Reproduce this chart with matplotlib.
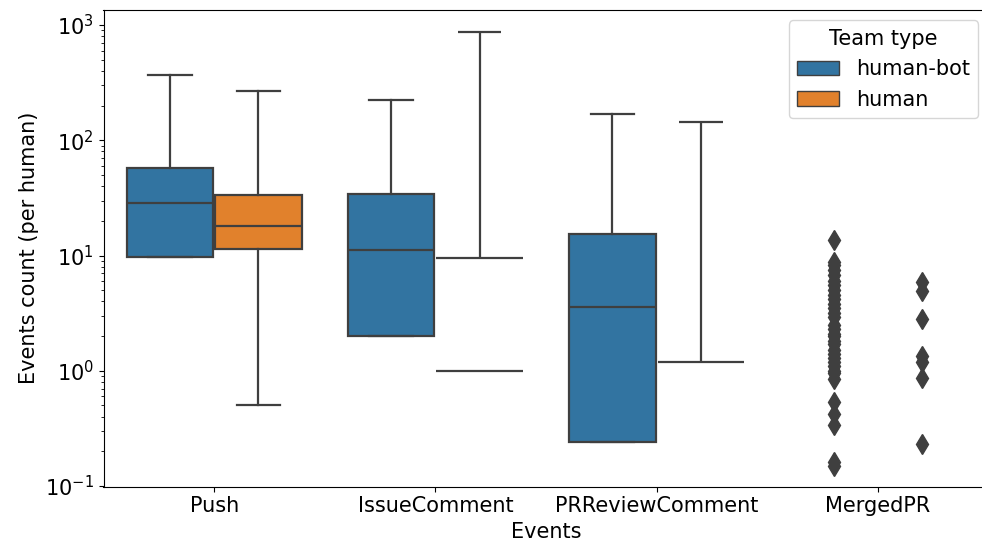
import numpy as np
import matplotlib
matplotlib.use("Agg")
import matplotlib.pyplot as plt
from matplotlib.patches import Patch

events = ["Push", "IssueComment", "PRReviewComment", "MergedPR"]
teams = ["human-bot", "human"]
colors = ["#3274a1", "#e1812c"]
gray = "#3f3f3f"

# box stats per event (whisker low, Q1, median, Q3, whisker high)
# 0 means the value is zero -> cannot be shown on the log axis
bot_whislo = [9.8, 2.02, 0.24, 0]
bot_q1 = [9.8, 2.02, 0.24, 0]
bot_med = [28.4, 11.2, 3.57, 0]
bot_q3 = [57.0, 34.0, 15.5, 0]
bot_whishi = [372, 225, 168, 0]

human_whislo = [0.50, 0, 0, 0]
human_q1 = [11.3, 0, 0, 0]
human_med = [17.9, 1.0, 0, 0]
human_q3 = [33.3, 9.5, 1.2, 0]
human_whishi = [265, 875, 144, 0]

# outliers (only MergedPR has them)
bot_fliers = [[], [], [],
              [13.5, 8.8, 8.2, 7.5, 6.8, 6.0, 5.5, 5.0, 4.5, 4.2, 3.8, 3.5,
               3.2, 2.9, 2.5, 2.3, 2.1, 2.0, 1.8, 1.7, 1.5, 1.4, 1.3, 1.2,
               1.1, 1.0, 0.95, 0.85, 0.54, 0.42, 0.335, 0.163, 0.148]]
human_fliers = [[], [], [], [5.9, 4.95, 2.8, 1.33, 1.2, 0.86, 0.23]]

stats = [
    (bot_whislo, bot_q1, bot_med, bot_q3, bot_whishi, bot_fliers),
    (human_whislo, human_q1, human_med, human_q3, human_whishi, human_fliers),
]

fig = plt.figure(figsize=(9.82, 5.5), dpi=100)
ax = fig.add_axes([103.5 / 982, 1 - 486.5 / 550, 885 / 982, 476.5 / 550])
ax.set_yscale("log")

w = 0.392
lw = 1.6
for j, (wlo, q1, med, q3, whi, fl) in enumerate(stats):
    off = -0.2 + 0.4 * j
    for i in range(len(events)):
        pos = i + off
        if q1[i] > 0:
            st = dict(whislo=wlo[i], q1=q1[i], med=med[i], q3=q3[i],
                      whishi=whi[i], fliers=[])
            ax.bxp([st], positions=[pos], widths=w, patch_artist=True,
                   showfliers=False, manage_ticks=False,
                   boxprops=dict(facecolor=colors[j], edgecolor=gray, linewidth=lw),
                   whiskerprops=dict(color=gray, linewidth=lw),
                   capprops=dict(color=gray, linewidth=lw),
                   medianprops=dict(color=gray, linewidth=lw))
        elif q3[i] > 0:
            # degenerate box (lower quartile at zero): only the visible parts
            vals = [v for v in (med[i], q3[i]) if v > 0]
            ax.hlines(vals, pos - w / 2, pos + w / 2, color=gray, linewidth=lw)
            ax.vlines(pos, q3[i], whi[i], color=gray, linewidth=lw)
            ax.hlines(whi[i], pos - w / 4, pos + w / 4, color=gray, linewidth=lw)
        if fl[i]:
            ax.plot(np.full(len(fl[i]), pos), fl[i], "d", ls="none",
                    color=gray, markersize=10)

ax.set_xlim(-0.5, len(events) - 0.5)
ax.set_ylim(0.099, 1350)
ax.set_xticks(range(len(events)))
ax.set_xticklabels(events)
ax.tick_params(labelsize=15)
ax.set_xlabel("Events", fontsize=15)
ax.set_ylabel("Events count (per human)", fontsize=15)

handles = [Patch(facecolor=c, edgecolor=gray, label=t) for c, t in zip(colors, teams)]
ax.legend(handles=handles, title="Team type", loc="upper right",
          fontsize=15, title_fontsize=15)

fig.savefig("out.png", dpi=100)
